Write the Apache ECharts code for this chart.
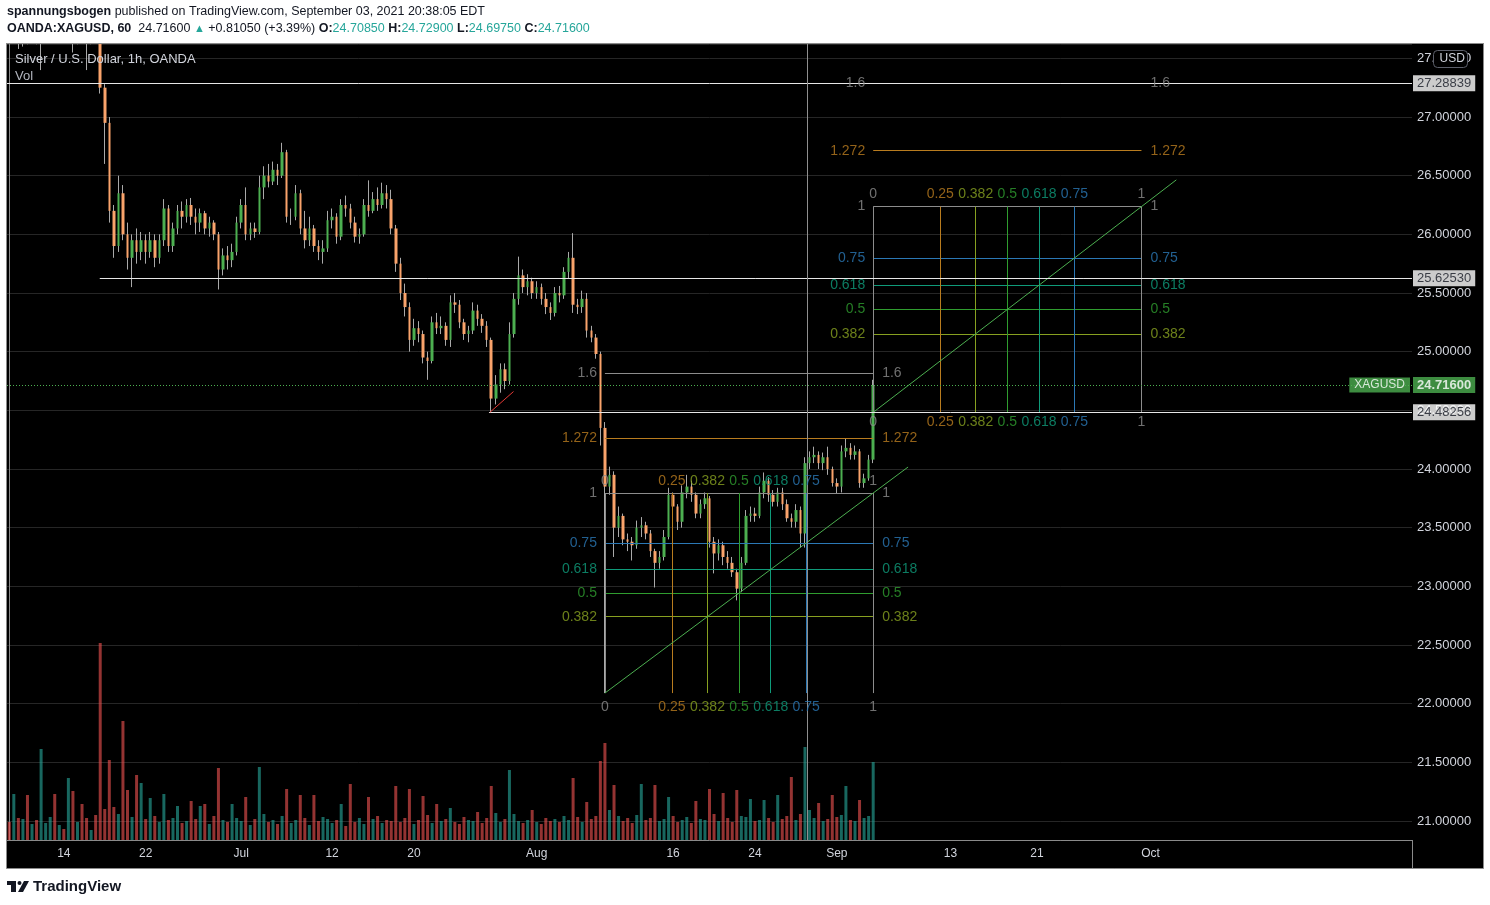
<!DOCTYPE html>
<html><head><meta charset="utf-8">
<script src="https://cdn.jsdelivr.net/npm/echarts@6/dist/echarts.min.js"></script>
<style>html,body{margin:0;padding:0;background:#fff;}#c{width:1490px;height:905px;}</style>
</head><body><div id="c"></div>
<script>
// ---------- DATA ----------
// time axis: 8-hour slots (3 per trading day), tick labels at slot indices
const slotCount = 309;
const tickLabels = ['14','22','Jul','12','20','Aug','16','24','Sep','13','21','Oct'];
const tickSlots  = [12, 30, 51, 71, 89, 116, 146, 164, 182, 207, 226, 251];

// candles [open, close, low, high], 3 per trading day from Jun 8
const bars = [
 [27.95,27.88,27.80,28.05],[27.88,27.92,27.82,28.00],[27.92,27.72,27.58,27.95],
 [27.72,27.80,27.60,27.85],[27.80,27.68,27.62,27.84],[27.68,27.75,27.64,27.80],
 [27.75,27.70,27.62,27.82],[27.70,27.90,27.40,27.98],[27.90,27.95,27.80,28.05],
 [27.95,28.10,27.90,28.20],[28.10,27.95,27.88,28.15],[27.95,27.98,27.85,28.02],
 [27.98,27.85,27.78,28.00],[27.85,27.90,27.75,27.96],[27.90,27.70,27.55,27.92],
 [27.70,27.78,27.62,27.85],[27.78,27.72,27.65,27.82],[27.72,27.65,27.40,27.76],
 [27.65,27.72,27.62,27.80],[27.72,27.70,27.64,27.78],[27.70,27.25,27.20,27.75],
 [27.25,26.95,26.60,27.28],[26.95,26.20,26.10,27.00],[26.20,25.90,25.80,26.25],
 [25.90,26.35,25.85,26.50],[26.35,26.00,25.95,26.42],[26.00,25.80,25.70,26.10],
 [25.80,25.95,25.55,26.00],[25.95,25.85,25.75,26.05],[25.85,25.95,25.78,26.02],
 [25.95,25.85,25.75,26.00],[25.85,25.95,25.80,26.02],[25.95,25.80,25.72,26.00],
 [25.80,25.95,25.75,26.00],[25.95,26.22,25.90,26.30],[26.22,25.90,25.85,26.25],
 [25.90,26.05,25.85,26.10],[26.05,26.20,26.00,26.25],[26.20,26.15,26.05,26.28],
 [26.15,26.25,26.10,26.30],[26.25,26.15,26.08,26.31],[26.15,26.10,26.00,26.22],
 [26.10,26.18,26.02,26.22],[26.18,26.05,26.00,26.20],[26.05,26.10,25.98,26.15],
 [26.10,26.00,25.95,26.12],[26.00,25.70,25.53,26.02],[25.70,25.82,25.65,25.88],
 [25.82,25.78,25.70,25.90],[25.78,25.85,25.72,25.92],[25.85,26.10,25.82,26.15],
 [26.10,26.25,26.05,26.30],[26.25,26.00,25.95,26.40],[26.00,26.05,25.95,26.10],
 [26.05,26.02,25.97,26.10],[26.02,26.40,26.00,26.50],[26.40,26.50,26.30,26.58],
 [26.50,26.45,26.40,26.60],[26.45,26.55,26.42,26.62],[26.55,26.50,26.42,26.60],
 [26.50,26.70,26.48,26.78],[26.70,26.15,26.10,26.72],[26.15,26.15,26.08,26.22],
 [26.15,26.35,26.12,26.42],[26.35,26.05,26.00,26.38],[26.05,25.95,25.88,26.20],
 [25.95,26.05,25.90,26.15],[26.05,25.90,25.85,26.08],[25.90,25.85,25.78,25.95],
 [25.85,25.88,25.75,25.95],[25.88,26.12,25.85,26.20],[26.12,26.15,26.05,26.22],
 [26.15,25.98,25.92,26.18],[25.98,26.25,25.95,26.30],[26.25,26.22,26.15,26.33],
 [26.22,26.10,26.05,26.26],[26.10,25.98,25.93,26.15],[25.98,26.00,25.92,26.05],
 [26.00,26.25,25.98,26.30],[26.25,26.20,26.15,26.46],[26.20,26.30,26.18,26.36],
 [26.30,26.25,26.20,26.40],[26.25,26.35,26.22,26.44],[26.35,26.30,26.22,26.42],
 [26.30,26.05,26.00,26.38],[26.05,25.75,25.68,26.08],[25.75,25.50,25.44,25.80],
 [25.50,25.38,25.30,25.58],[25.38,25.10,25.00,25.42],[25.10,25.20,25.05,25.28],
 [25.20,25.15,25.08,25.26],[25.15,24.95,24.90,25.18],[24.95,24.92,24.76,25.00],
 [24.92,25.25,24.90,25.30],[25.25,25.20,25.15,25.33],[25.20,25.22,25.15,25.30],
 [25.22,25.10,25.05,25.25],[25.10,25.42,25.04,25.48],[25.42,25.40,25.33,25.50],
 [25.40,25.25,25.20,25.44],[25.25,25.15,25.10,25.28],[25.15,25.18,25.08,25.22],
 [25.18,25.35,25.15,25.42],[25.35,25.28,25.22,25.40],[25.28,25.22,25.16,25.32],
 [25.22,25.10,25.04,25.26],[25.10,24.60,24.4826,25.12],[24.60,24.72,24.55,24.80],
 [24.72,24.85,24.65,24.90],[24.85,24.75,24.68,24.90],[24.75,25.15,24.72,25.25],
 [25.15,25.45,25.12,25.50],[25.45,25.65,25.40,25.81],[25.65,25.55,25.50,25.70],
 [25.55,25.60,25.48,25.66],[25.60,25.50,25.45,25.63],[25.50,25.55,25.45,25.60],
 [25.55,25.45,25.40,25.58],[25.45,25.38,25.32,25.50],[25.38,25.33,25.27,25.42],
 [25.33,25.50,25.30,25.55],[25.50,25.48,25.42,25.56],[25.48,25.68,25.45,25.72],
 [25.68,25.80,25.62,25.85],[25.80,25.40,25.33,26.01],[25.40,25.38,25.32,25.45],
 [25.38,25.45,25.33,25.52],[25.45,25.18,25.12,25.50],[25.18,25.12,25.08,25.22],
 [25.12,24.98,24.94,25.15],[24.98,24.35,24.20,25.00],[24.35,23.85,22.09,24.40],
 [23.85,23.95,23.78,24.02],[23.95,23.50,23.25,23.98],[23.50,23.60,23.42,23.68],
 [23.60,23.40,23.35,23.62],[23.40,23.38,23.30,23.45],[23.38,23.35,23.22,23.42],
 [23.35,23.50,23.32,23.56],[23.50,23.52,23.42,23.59],[23.52,23.45,23.40,23.55],
 [23.45,23.30,23.25,23.48],[23.30,23.20,22.99,23.32],[23.20,23.25,23.15,23.30],
 [23.25,23.42,23.22,23.48],[23.42,23.78,23.40,23.84],[23.78,23.68,23.62,23.80],
 [23.68,23.55,23.48,23.70],[23.55,23.80,23.50,23.86],[23.80,23.85,23.75,23.95],
 [23.85,23.78,23.72,23.90],[23.78,23.62,23.58,23.80],[23.62,23.70,23.58,23.74],
 [23.70,23.75,23.66,23.80],[23.75,23.38,23.33,23.77],[23.38,23.28,23.11,23.42],
 [23.28,23.35,23.22,23.40],[23.35,23.25,23.18,23.38],[23.25,23.20,23.15,23.30],
 [23.20,23.12,23.08,23.25],[23.12,22.98,22.88,23.15],[22.98,23.20,22.95,23.25],
 [23.20,23.60,23.18,23.65],[23.60,23.62,23.55,23.68],[23.62,23.60,23.55,23.67],
 [23.60,23.80,23.58,23.85],[23.80,23.90,23.75,23.97],[23.90,23.78,23.72,23.93],
 [23.78,23.72,23.68,23.82],[23.72,23.80,23.68,23.84],[23.80,23.70,23.65,23.84],
 [23.70,23.58,23.55,23.74],[23.58,23.55,23.50,23.62],[23.55,23.65,23.50,23.70],
 [23.65,23.45,23.33,23.68],[23.45,24.05,23.33,24.10],[24.05,24.10,24.00,24.15],
 [24.10,24.12,24.05,24.19],[24.12,24.05,24.00,24.15],[24.05,24.10,23.99,24.14],
 [24.10,24.00,23.95,24.19],[24.00,23.88,23.85,24.02],[23.88,23.85,23.79,23.92],
 [23.85,24.15,23.80,24.20],[24.15,24.18,24.10,24.26],[24.18,24.12,24.08,24.22],
 [24.12,24.15,24.08,24.20],[24.15,23.88,23.84,24.17],[23.88,23.92,23.84,23.96],
 [23.92,24.08,23.90,24.12],[24.08,24.716,24.05,24.76]
];

// volume per slot (relative units)
const volume = [
 18,46,22, 21,45,16, 20,91,17, 23,46,15, 11,62,49, 18,36,22, 10,25,197, 31,80,33,
 26,119,50, 23,65,57, 21,42,24, 18,46,20, 22,34,17, 19,39,21, 34,36,16, 24,72,20,
 18,36,22, 19,43,15, 21,73,26, 18,20,16, 24,51,17, 20,45,22, 15,45,19, 23,21,17,
 20,36,14, 56,18,22, 16,43,21, 24,17,20, 19,54,18, 22,51,16, 20,44,25, 17,36,19,
 21,32,18, 16,23,20, 19,28,17, 22,54,27, 18,21,70, 26,19,17, 20,30,18, 16,22,19,
 21,18,24, 20,62,23, 18,38,21, 24,79,97, 30,55,24, 19,22,17, 25,56,20, 22,55,19,
 21,43,24, 18,20,23, 17,39,21, 20,51,26, 19,47,22, 18,50,24, 23,41,19, 20,40,22,
 18,45,21, 24,63,20, 26,93,30, 22,37,19, 21,45,23, 25,54,20, 19,40,22, 24,78
];

// drawings
const hLinePrices = [27.28839, 25.62530, 24.48256];
const hLineStarts = [-0.5, 19.9, 105.5];
const lastPrice = 24.716;
const symbolName = 'XAGUSD';
const redTrend = [[105.7, 24.4826], [110.9, 24.66]];
const crosshairSlot = 175.4;
const lowerFibTime = [131, 190];
const lowerFibPrice = [22.09, 23.795];
const upperFibTime = [190, 249];
const upperFibPrice = [24.48256, 26.2362];
const fibPriceLevels = [0.382, 0.5, 0.618, 0.75, 1, 1.272, 1.6];
const fibTimeLevels = [0, 0.25, 0.382, 0.5, 0.618, 0.75, 1];
const fanExtent = 1.13;

const yMin = 20.8377, yMax = 27.6222;

// ---------- BUILD ----------
const FONT = '"Liberation Sans", Arial, sans-serif';
const levelColor = {0:'#8c8c8c',0.25:'#b97c1f',0.382:'#87a020',0.5:'#2f9d2f',0.618:'#0f9b7a',0.75:'#2b78b5',1:'#8c8c8c',1.272:'#b97c1f',1.6:'#8c8c8c'};
const categories = Array.from({length: slotCount}, (_, i) => String(i));
const labelMap = {};
tickSlots.forEach((s, i) => labelMap[s] = tickLabels[i]);

const wickData = bars.map(b => [b[0], b[1], b[2], b[3]]);
const bodyData = bars.map(b => [b[0], b[1], Math.min(b[0], b[1]), Math.max(b[0], b[1])]);
const volData = volume.map((v, i) => ({
  value: v,
  itemStyle: {color: (bars[i] && bars[i][1] >= bars[i][0]) ? 'rgba(38,166,154,0.62)' : 'rgba(239,83,80,0.62)'}
}));

const lineItems = [];
const labelItems = [];
function buildFib(T, P, topDist, botDist) {
  const t0 = T[0], t1 = T[1], p0 = P[0], p1 = P[1];
  fibPriceLevels.forEach(l => {
    const p = p0 + l * (p1 - p0), c = levelColor[l];
    lineItems.push({coords: [[t0, p], [t1, p]], lineStyle: {color: c}});
    labelItems.push({value: [t0, p], label: {formatter: String(l), position: 'left', distance: 8, color: c}});
    labelItems.push({value: [t1, p], label: {formatter: String(l), position: 'right', distance: 9, color: c}});
  });
  fibTimeLevels.forEach(l => {
    const t = t0 + l * (t1 - t0), c = levelColor[l];
    lineItems.push({coords: [[t, p0], [t, p1]], lineStyle: {color: c}});
    labelItems.push({value: [t, p1], label: {formatter: String(l), position: 'top', distance: topDist, color: c}});
    labelItems.push({value: [t, p0], label: {formatter: String(l), position: 'bottom', distance: botDist, color: c}});
  });
  lineItems.push({coords: [[t0, p0], [t0 + fanExtent * (t1 - t0), p0 + fanExtent * (p1 - p0)]], lineStyle: {color: '#4caf50'}});
}
buildFib(lowerFibTime, lowerFibPrice, 5, 7);
buildFib(upperFibTime, upperFibPrice, 5, 3);

const xEnd = slotCount - 0.5;
hLinePrices.forEach((p, i) => lineItems.push({coords: [[hLineStarts[i], p], [xEnd, p]], lineStyle: {color: '#e6e6e6'}}));
lineItems.push({coords: [[-0.5, lastPrice], [xEnd, lastPrice]], lineStyle: {color: '#4caf50', type: [1, 2]}});
lineItems.push({coords: redTrend, lineStyle: {color: '#e53935'}});
lineItems.push({coords: [[crosshairSlot, yMin], [crosshairSlot, yMax]], lineStyle: {color: '#8f8f8f'}});

const axisTags = hLinePrices.map(p => ({
  value: [xEnd, p],
  label: {formatter: p.toFixed(5), position: 'right', distance: 1, color: '#131722', backgroundColor: '#ffffff', padding: [2, 4, 1, 4], fontSize: 13}
}));
axisTags.push({value: [xEnd, lastPrice], label: {formatter: lastPrice.toFixed(5), position: 'right', distance: 1, color: '#ffffff', backgroundColor: '#4caf50', padding: [2, 4, 1, 4], fontSize: 13, fontWeight: 'bold'}});
axisTags.push({value: [xEnd, lastPrice], label: {formatter: symbolName, position: 'left', distance: 2, color: '#ffffff', backgroundColor: '#4caf50', padding: [2, 5, 1, 5], fontSize: 12}});

const chart = echarts.init(document.getElementById('c'), null, {width: 1490, height: 905});
chart.setOption({
  animation: false,
  backgroundColor: '#ffffff',
  textStyle: {fontFamily: FONT},
  grid: {left: 7, right: 78, top: 44, bottom: 65},
  xAxis: [
    {type: 'category', data: categories, boundaryGap: true, position: 'bottom',
     axisLine: {show: true, lineStyle: {color: '#8a8a8a'}}, axisTick: {show: false},
     axisLabel: {interval: (i) => labelMap[i] !== undefined, formatter: (v) => labelMap[+v] || '', color: '#d1d4dc', fontSize: 12, margin: 8, fontFamily: FONT},
     splitLine: {show: false}},
    {type: 'value', min: -0.5, max: slotCount - 0.5, show: false}
  ],
  yAxis: [
    {type: 'value', position: 'right', min: yMin, max: yMax, splitNumber: 13, scale: true,
     axisLine: {show: true, lineStyle: {color: '#8a8a8a'}}, axisTick: {show: false},
     axisLabel: {formatter: v => v.toFixed(5), color: '#d1d4dc', fontSize: 13, margin: 5, showMinLabel: false, showMaxLabel: false, fontFamily: FONT},
     splitLine: {show: true, lineStyle: {color: '#262626'}}},
    {type: 'value', min: 0, max: 796, show: false, splitLine: {show: false}}
  ],
  series: [
    {type: 'bar', name: 'Vol', xAxisIndex: 0, yAxisIndex: 1, data: volData, barWidth: 3, z: 1},
    {type: 'candlestick', name: 'wick', xAxisIndex: 0, yAxisIndex: 0, data: wickData, barWidth: 1, clip: true, z: 2,
     itemStyle: {color: '#a9a9a9', color0: '#a9a9a9', borderColor: '#a9a9a9', borderColor0: '#a9a9a9', borderWidth: 1}},
    {type: 'candlestick', name: 'body', xAxisIndex: 0, yAxisIndex: 0, data: bodyData, barWidth: 3, clip: true, z: 3,
     itemStyle: {color: '#4caf50', color0: '#f9a36b', borderColor: '#4caf50', borderColor0: '#f9a36b', borderWidth: 0}},
    {type: 'lines', coordinateSystem: 'cartesian2d', xAxisIndex: 1, yAxisIndex: 0, polyline: false, z: 5,
     lineStyle: {width: 1, opacity: 1}, data: lineItems},
    {type: 'scatter', xAxisIndex: 1, yAxisIndex: 0, symbolSize: 0, z: 6, clip: false,
     label: {show: true, fontSize: 14, fontFamily: FONT}, data: labelItems},
    {type: 'scatter', xAxisIndex: 1, yAxisIndex: 0, symbolSize: 0, z: 7, clip: false,
     label: {show: true, fontFamily: FONT}, data: axisTags}
  ],
  graphic: [
    {type: 'rect', z: -10, shape: {x: 6.5, y: 43.5, width: 1477, height: 825}, style: {fill: '#000', stroke: '#8a8a8a', lineWidth: 1}},
    {type: 'rect', z: 50, shape: {x: 0, y: 0, width: 1490, height: 43}, style: {fill: '#ffffff'}},
    {type: 'line', z: 51, shape: {x1: 6, y1: 43.5, x2: 1484, y2: 43.5}, style: {stroke: '#8a8a8a', lineWidth: 1}},
    {type: 'line', z: 10, shape: {x1: 1412.5, y1: 840, x2: 1412.5, y2: 868}, style: {stroke: '#8a8a8a', lineWidth: 1}},
    {type: 'text', z: 60, left: 7, top: 5, style: {text: '{b|spannungsbogen} published on TradingView.com, September 03, 2021 20:38:05 EDT', fill: '#131722', font: '12.5px ' + FONT,
      rich: {b: {fontWeight: 'bold', fontSize: 12.5, fill: '#131722', fontFamily: FONT}}}},
    {type: 'text', z: 60, left: 7, top: 22, style: {text: '{b|OANDA:XAGUSD, 60}  24.71600 {g|▲} +0.81050 (+3.39%) {b|O:}{t|24.70850} {b|H:}{t|24.72900} {b|L:}{t|24.69750} {b|C:}{t|24.71600}', fill: '#131722', font: '12.5px ' + FONT,
      rich: {b: {fontWeight: 'bold', fontSize: 12.5, fill: '#131722', fontFamily: FONT}, t: {fill: '#26a69a', fontSize: 12.5, fontFamily: FONT}, g: {fill: '#26a69a', fontSize: 11, fontFamily: FONT}}}},
    {type: 'text', z: 60, left: 15, top: 53, style: {text: 'Silver / U.S. Dollar, 1h, OANDA', fill: '#d1d4dc', font: '13px ' + FONT}},
    {type: 'text', z: 60, left: 15, top: 70, style: {text: 'Vol', fill: '#b2b5be', font: '13px ' + FONT}},
    {type: 'group', z: 60, left: 1433, top: 50, children: [
      {type: 'rect', z: 60, shape: {x: 0, y: 0, width: 34, height: 17, r: 4}, style: {fill: '#000', stroke: '#5d606b', lineWidth: 1}},
      {type: 'text', z: 61, left: 6, top: 2, style: {text: 'USD', fill: '#d1d4dc', font: '12px ' + FONT}}
    ]},
    {type: 'group', z: 60, left: 7, top: 879, children: [
      {type: 'rect', z: 60, shape: {x: 0, y: 0, width: 9, height: 4}, style: {fill: '#131722'}},
      {type: 'rect', z: 60, shape: {x: 4, y: 0, width: 5, height: 11}, style: {fill: '#131722'}},
      {type: 'circle', z: 60, shape: {cx: 12.5, cy: 2, r: 2}, style: {fill: '#131722'}},
      {type: 'polygon', z: 60, shape: {points: [[17, 0], [22, 0], [16, 11], [11, 11]]}, style: {fill: '#131722'}},
      {type: 'text', z: 60, left: 26, top: -2, style: {text: 'TradingView', fill: '#131722', font: 'bold 15px ' + FONT}}
    ]}
  ]
});
</script></body></html>
